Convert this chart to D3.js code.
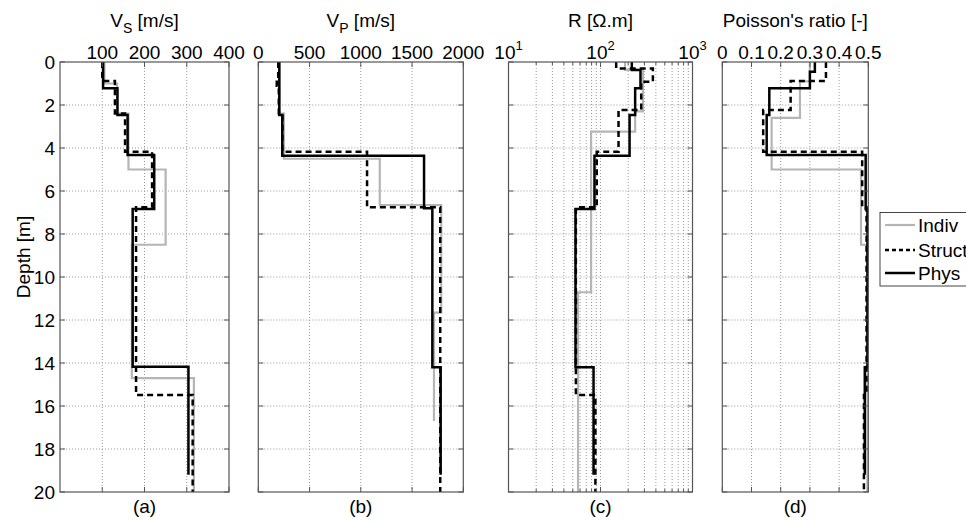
<!DOCTYPE html>
<html>
<head>
<meta charset="utf-8">
<script src="https://cdn.jsdelivr.net/npm/d3@7"></script>
<style>
  html, body { margin: 0; padding: 0; background: #fff; }
  svg { display: block; font-family: "Liberation Sans", Arial, Helvetica, sans-serif; }
</style>
</head>
<body>
<svg id="chart" width="966" height="521"></svg>
<script>
// Depth axis
const depthDomain = [0, 20];
const depthTicks = [0, 2, 4, 6, 8, 10, 12, 14, 16, 18, 20];

// Series names (legend order)
const seriesNames = ["Indiv", "Struct", "Phys"];

// (a) Shear-wave velocity Vs [m/s]: layer boundaries (m) and layer values
const vsTicks = [100, 200, 300, 400];
const vsIndivDepth = [0, 1.0, 2.4, 5.0, 8.5, 14.7, 20];
const vsIndiv = [105, 135, 162, 250, 170, 317];
const vsStructDepth = [0, 0.88, 2.39, 4.17, 6.76, 15.49, 20];
const vsStruct = [100, 130, 154, 218, 180, 314];
const vsPhysDepth = [0, 1.22, 2.47, 4.33, 6.84, 14.17, 19.2];
const vsPhys = [102, 136, 160, 223, 172, 304];

// (b) Compression-wave velocity Vp [m/s]
const vpTicks = [0, 500, 1000, 1500, 2000];
const vpIndivDepth = [0, 2.4, 4.5, 6.65, 11.66, 16.7];
const vpIndiv = [205, 250, 1185, 1785, 1714];
const vpStructDepth = [0, 0.8, 1.1, 2.4, 4.17, 6.76, 20];
const vpStruct = [195, 180, 200, 235, 1061, 1775];
const vpPhysDepth = [0, 2.47, 4.36, 6.8, 14.2, 19.2];
const vpPhys = [205, 234, 1617, 1698, 1779];

// (c) Resistivity R [Ω.m]
const rMajorTicks = [10, 100, 1000];
const rMinorTicks = [20, 30, 40, 50, 60, 70, 80, 90, 200, 300, 400, 500, 600, 700, 800, 900];
const rIndivDepth = [0, 0.37, 2.3, 3.24, 10.71, 20];
const rIndiv = [185, 289, 238, 79, 57];
const rStructDepth = [0, 0.3, 0.92, 2.23, 4.17, 6.76, 15.49, 20];
const rStruct = [148, 371, 277, 157, 91, 54, 88];
const rPhysDepth = [0, 0.37, 1.22, 2.47, 4.36, 6.84, 14.2, 19.2];
const rPhys = [219, 272, 238, 207, 86, 53.5, 84];

// (d) Poisson's ratio [-]
const nuTicks = [0, 0.1, 0.2, 0.3, 0.4, 0.5];
const nuIndivDepth = [0, 0.9, 2.6, 5.0, 8.5, 20];
const nuIndiv = [0.300, 0.266, 0.169, 0.475, 0.497];
const nuStructDepth = [0, 0.88, 2.23, 4.17, 6.76, 15.49, 20];
const nuStruct = [0.355, 0.234, 0.140, 0.479, 0.494, 0.485];
const nuPhysDepth = [0, 0.45, 1.22, 2.47, 4.33, 6.84, 14.2, 19.2];
const nuPhys = [0.317, 0.300, 0.161, 0.152, 0.491, 0.497, 0.488];

// ---------------------------------------------------------------------------
const svg = d3.select("#chart");
svg.append("rect").attr("width", 966).attr("height", 521).attr("fill", "#fff");

const plotTop = 62, plotBottom = 492;
const y = d3.scaleLinear().domain(depthDomain).range([plotTop, plotBottom]);

const FONT = 19;
const frameColor = "#555";
const gridColor = "#9a9a9a";

const styles = {
  Indiv:  { stroke: "#b5b5b5", width: 2.2, dash: null },
  Struct: { stroke: "#000",    width: 2.5, dash: "6,4" },
  Phys:   { stroke: "#000",    width: 2.5, dash: null }
};

const panels = [
  {
    label: "(a)", x: d3.scaleLinear().domain([0, 400]).range([60, 229]),
    ticks: vsTicks, fmt: d => String(d), title: ["V", "S", " [m/s]"],
    series: [[vsIndivDepth, vsIndiv], [vsStructDepth, vsStruct], [vsPhysDepth, vsPhys]]
  },
  {
    label: "(b)", x: d3.scaleLinear().domain([0, 2000]).range([258.3, 463.3]),
    ticks: vpTicks, fmt: d => String(d), title: ["V", "P", " [m/s]"],
    series: [[vpIndivDepth, vpIndiv], [vpStructDepth, vpStruct], [vpPhysDepth, vpPhys]]
  },
  {
    label: "(c)", x: d3.scaleLog().domain([10, 1000]).range([508.5, 692.5]),
    ticks: rMajorTicks, minor: rMinorTicks, log: true, title: ["R [Ω.m]"],
    series: [[rIndivDepth, rIndiv], [rStructDepth, rStruct], [rPhysDepth, rPhys]]
  },
  {
    label: "(d)", x: d3.scaleLinear().domain([0, 0.5]).range([722.3, 868.3]),
    ticks: nuTicks, fmt: d => d === 0 ? "0" : d3.format(".1f")(d), title: ["Poisson's ratio [-]"],
    series: [[nuIndivDepth, nuIndiv], [nuStructDepth, nuStruct], [nuPhysDepth, nuPhys]]
  }
];

// Turns layer boundaries + layer values into a stepped profile
function stepPoints(depths, values) {
  const pts = [];
  values.forEach((v, i) => {
    pts.push([v, depths[i]]);
    pts.push([v, depths[i + 1]]);
  });
  return pts;
}

panels.forEach((p, pi) => {
  const [x0, x1] = p.x.range();
  const g = svg.append("g");
  const clipId = "clip" + pi;
  svg.append("clipPath").attr("id", clipId)
    .append("rect").attr("x", x0).attr("y", plotTop).attr("width", x1 - x0).attr("height", plotBottom - plotTop);

  // grid
  const gridX = p.log ? p.ticks.concat(p.minor) : p.ticks;
  g.selectAll(".gx").data(gridX.filter(v => p.x(v) > x0 + 1 && p.x(v) < x1 - 1)).join("line")
    .attr("x1", d => p.x(d)).attr("x2", d => p.x(d)).attr("y1", plotTop).attr("y2", plotBottom)
    .attr("stroke", gridColor).attr("stroke-width", 1).attr("stroke-dasharray", "1,2");
  g.selectAll(".gy").data(depthTicks.filter(d => d > 0 && d < 20)).join("line")
    .attr("x1", x0).attr("x2", x1).attr("y1", d => y(d)).attr("y2", d => y(d))
    .attr("stroke", gridColor).attr("stroke-width", 1).attr("stroke-dasharray", "1,2");

  // profiles
  const line = d3.line().x(d => p.x(d[0])).y(d => y(d[1]));
  p.series.forEach(([dep, val], si) => {
    const st = styles[seriesNames[si]];
    g.append("path")
      .attr("clip-path", `url(#${clipId})`)
      .attr("d", line(stepPoints(dep, val)))
      .attr("fill", "none").attr("stroke", st.stroke).attr("stroke-width", st.width)
      .attr("stroke-dasharray", st.dash).attr("stroke-linejoin", "miter").attr("stroke-linecap", "butt");
  });

  // tick marks (inward), x on top and bottom, y on left and right
  const tl = 5;
  const xt = [];
  p.ticks.forEach(v => xt.push([v, tl]));
  if (p.minor) p.minor.forEach(v => xt.push([v, 3]));
  xt.forEach(([v, len]) => {
    const xx = p.x(v);
    g.append("line").attr("x1", xx).attr("x2", xx).attr("y1", plotTop).attr("y2", plotTop + len).attr("stroke", frameColor);
    g.append("line").attr("x1", xx).attr("x2", xx).attr("y1", plotBottom).attr("y2", plotBottom - len).attr("stroke", frameColor);
  });
  depthTicks.forEach(d => {
    g.append("line").attr("x1", x0).attr("x2", x0 + tl).attr("y1", y(d)).attr("y2", y(d)).attr("stroke", frameColor);
    g.append("line").attr("x1", x1).attr("x2", x1 - tl).attr("y1", y(d)).attr("y2", y(d)).attr("stroke", frameColor);
  });

  // frame
  g.append("rect").attr("x", x0).attr("y", plotTop).attr("width", x1 - x0).attr("height", plotBottom - plotTop)
    .attr("fill", "none").attr("stroke", frameColor).attr("stroke-width", 1.2);

  // top tick labels
  p.ticks.forEach(v => {
    const t = g.append("text").attr("x", p.x(v)).attr("y", 59).attr("text-anchor", "middle")
      .attr("font-size", FONT).attr("fill", "#000");
    if (p.log) {
      t.append("tspan").text("10");
      t.append("tspan").attr("font-size", 13).attr("dy", -9).text(String(Math.round(Math.log10(v))));
    } else {
      t.text(p.fmt(v));
    }
  });

  // title
  const cx = (x0 + x1) / 2;
  const tt = g.append("text").attr("x", cx).attr("y", 27).attr("text-anchor", "middle")
    .attr("font-size", FONT).attr("fill", "#000");
  if (p.title.length === 3) {
    tt.append("tspan").text(p.title[0]);
    tt.append("tspan").attr("font-size", 14).attr("dy", 6).text(p.title[1]);
    tt.append("tspan").attr("dy", -6).text(p.title[2]);
  } else {
    tt.text(p.title[0]);
  }

  // panel label
  g.append("text").attr("x", cx).attr("y", 513).attr("text-anchor", "middle")
    .attr("font-size", FONT).attr("fill", "#000").text(p.label);
});

// depth tick labels and axis title
svg.selectAll(".yl").data(depthTicks).join("text")
  .attr("x", 55).attr("y", d => y(d)).attr("dy", "0.36em").attr("text-anchor", "end")
  .attr("font-size", FONT).attr("fill", "#000").text(d => d);
svg.append("text").attr("transform", "translate(30,257) rotate(-90)")
  .attr("text-anchor", "middle").attr("font-size", FONT).attr("fill", "#000").text("Depth [m]");

// legend
const lg = svg.append("g");
lg.append("rect").attr("x", 880).attr("y", 212.5).attr("width", 110).attr("height", 73.5)
  .attr("fill", "#fff").attr("stroke", "#444").attr("stroke-width", 1);
const rowY = [225, 250, 273];
seriesNames.forEach((n, i) => {
  const st = styles[n];
  lg.append("line").attr("x1", 885).attr("x2", 915).attr("y1", rowY[i]).attr("y2", rowY[i])
    .attr("stroke", st.stroke).attr("stroke-width", st.width).attr("stroke-dasharray", st.dash ? "4,3" : null);
  lg.append("text").attr("x", 918).attr("y", rowY[i]).attr("dy", "0.36em")
    .attr("font-size", FONT).attr("fill", "#000").text(n);
});
</script>
</body>
</html>
